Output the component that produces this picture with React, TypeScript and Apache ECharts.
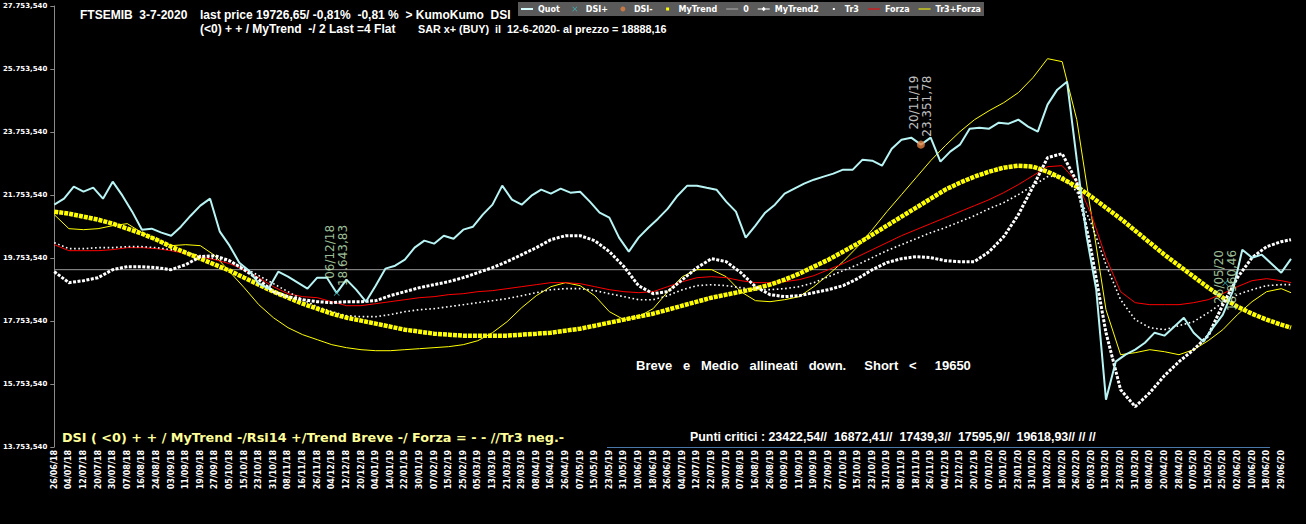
import React, { useEffect, useRef } from "react";
import * as echarts from "echarts";

// ---- tick labels (one every 6 sessions) ----
const DATE_LABELS = [
  "26/06/18","04/07/18","12/07/18","20/07/18","30/07/18","07/08/18","16/08/18","24/08/18","03/09/18","11/09/18",
  "19/09/18","27/09/18","05/10/18","15/10/18","23/10/18","31/10/18","08/11/18","16/11/18","26/11/18","04/12/18",
  "12/12/18","20/12/18","04/01/19","14/01/19","22/01/19","30/01/19","07/02/19","15/02/19","25/02/19","05/03/19",
  "13/03/19","21/03/19","29/03/19","08/04/19","16/04/19","26/04/19","07/05/19","15/05/19","23/05/19","31/05/19",
  "10/06/19","18/06/19","26/06/19","04/07/19","12/07/19","22/07/19","30/07/19","07/08/19","16/08/19","26/08/19",
  "03/09/19","11/09/19","19/09/19","27/09/19","07/10/19","15/10/19","23/10/19","31/10/19","08/11/19","18/11/19",
  "26/11/19","04/12/19","12/12/19","20/12/19","07/01/20","15/01/20","23/01/20","31/01/20","10/02/20","18/02/20",
  "26/02/20","05/03/20","13/03/20","23/03/20","31/03/20","08/04/20","20/04/20","28/04/20","07/05/20","15/05/20",
  "25/05/20","02/06/20","10/06/20","18/06/20","29/06/20"
];
const LABEL_STEP = 6;      // sessions between two date labels
const LAST_DAY = 508;      // session index of 03/07/2020
const QUOT_STEP = 4;       // sessions between two Quot samples
const TREND_STEP = 6;      // sessions between two indicator samples

// ---- series values ----
const QUOT = [
  21447,21637,22018,21859,21986,21637,22177,21732,21225,20653,
  20685,20558,20462,20748,21097,21415,21637,20589,20145,19606,
  19351,18939,18780,19320,19161,18970,18780,19129,19129,18644,
  19066,18748,18367,18875,19415,19510,19701,20082,20304,20209,
  20462,20367,20653,20748,21129,21447,22050,21606,21447,21732,
  21923,21796,21955,21828,21859,21542,21193,21034,20399,19955,
  20399,20716,21002,21320,21732,22050,22050,21986,21923,21542,
  21225,20399,20780,21193,21447,21796,21955,22113,22240,22336,
  22431,22558,22558,22875,22844,22685,23225,23510,23574,23352,
  23574,22812,23130,23352,23860,23891,23860,24050,24018,24145,
  23923,23764,24622,25098,25352,22875,20462,18748,15255,16462,
  16685,16843,17065,17383,17288,17573,17859,17383,17097,17541,
  17954,18685,20018,19764,19860,19574,19288,19727
];
const MY_TREND = [
  21225,21161,21066,20970,20844,20685,20526,20335,20114,19923,
  19733,19542,19352,19129,18907,18685,18494,18303,18145,17986,
  17859,17764,17669,17574,17478,17415,17351,17320,17288,17288,
  17288,17288,17320,17351,17383,17447,17510,17605,17701,17796,
  17891,17986,18113,18240,18367,18494,18590,18685,18780,18907,
  19066,19256,19479,19701,19955,20209,20494,20780,21066,21351,
  21637,21923,22145,22336,22494,22621,22685,22653,22494,22272,
  22018,21700,21351,21002,20621,20240,19860,19510,19161,18812,
  18494,18208,17986,17796,17637,17542
];
const MY_TREND2 = [
  19320,18970,19034,19129,19383,19479,19479,19447,19383,19542,
  19796,19828,19669,19383,19066,18685,18526,18430,18367,18335,
  18367,18367,18399,18558,18685,18812,18907,19002,19129,19288,
  19447,19638,19860,20082,20335,20462,20462,20304,19955,19479,
  18875,18621,18685,19066,19447,19733,19638,19288,18844,18590,
  18526,18558,18653,18748,18875,19098,19383,19606,19733,19796,
  19765,19669,19638,19638,19955,20431,21129,22018,22939,23066,
  22177,19955,17383,15573,15033,15478,16018,16462,16843,17288,
  18272,19129,19765,20114,20272,20335
];
const TR3 = [
  20240,20050,20050,20082,20082,20114,20114,20082,20018,19923,
  19828,19733,19638,19447,19193,18939,18685,18430,18208,18050,
  17923,17891,17891,17955,18050,18113,18145,18208,18272,18335,
  18399,18463,18558,18653,18748,18780,18780,18717,18621,18526,
  18430,18430,18558,18748,18875,18907,18875,18812,18748,18748,
  18780,18844,18971,19161,19352,19542,19765,19986,20177,20367,
  20558,20717,20907,21097,21320,21510,21764,22050,22336,22367,
  21859,20844,19542,18430,17796,17542,17478,17605,17732,18018,
  18335,18590,18748,18875,18907,18907
];
const FORZA = [
  20177,19986,19986,19986,20018,20082,20082,20050,19986,19891,
  19796,19701,19574,19383,19129,18844,18621,18526,18494,18367,
  18240,18240,18303,18367,18430,18494,18526,18590,18621,18685,
  18717,18780,18844,18907,18971,18971,18939,18844,18748,18685,
  18653,18685,18844,19002,19129,19161,19129,19034,18971,18971,
  19002,19066,19193,19383,19574,19796,20018,20240,20462,20653,
  20844,21034,21225,21415,21605,21828,22082,22367,22653,22685,
  22177,21129,19765,18685,18335,18272,18272,18272,18335,18430,
  18621,18844,19034,19098,19034,18971
];
const TR3_FORZA = [
  21129,20685,20653,20685,20780,20844,20558,20335,20145,20177,
  20145,19828,19320,18812,18272,17859,17542,17320,17161,17002,
  16907,16843,16811,16811,16843,16875,16907,16939,17002,17129,
  17383,17732,18177,18558,18844,18971,18875,18558,18050,17796,
  17891,18145,18685,19161,19383,19383,19161,18685,18399,18367,
  18430,18526,18844,19225,19638,20114,20653,21225,21764,22304,
  22844,23320,23764,24145,24431,24685,25003,25479,26082,25987,
  24145,21129,18113,16684,16748,16843,16779,16684,16843,17129,
  17478,17955,18367,18685,18780,18653
];
const ZERO_LEVEL = 19383;

// DSI signals: session index, price, date
const DSI_PLUS_DAYS = [116, 481];
const DSI_PLUS_VALUES = [18643.83, 18960.46];
const DSI_PLUS_DATES = ["06/12/18", "26/05/20"];
const DSI_MINUS_DAYS = [356];
const DSI_MINUS_VALUES = [23351.78];
const DSI_MINUS_DATES = ["20/11/19"];

const Y_MIN = 13753.54;
const Y_MAX = 27753.54;
const Y_STEP = 2000;

const LEGEND_NAMES = ["Quot", "DSI+", "DSI-", "MyTrend", "0", "MyTrend2", "Tr3", "Forza", "Tr3+Forza"];

// ---- helpers ----
const fmtIt = (v: number, dec: number) => {
  const [i, d] = v.toFixed(dec).split(".");
  return i.replace(/\B(?=(\d{3})+(?!\d))/g, ".") + "," + d;
};
const toPairs = (values: number[], step: number) =>
  values.map((v, i) => [Math.min(i * step, LAST_DAY), v]);

const X_SYMBOL = "path://M0 1L1 0L5 4L9 0L10 1L6 5L10 9L9 10L5 6L1 10L0 9L4 5Z";
// legend icons drawn in a 12x8 box (the first two moves fix the box)
const BOX = "M0,0M12,8";
const ICONS: Record<string, string> = {
  "Quot": `path://${BOX}M0,3H12V5H0Z`,
  "DSI+": `path://${BOX}M3.5 2L4 1.5L6 3.5L8 1.5L8.5 2L6.5 4L8.5 6L8 6.5L6 4.5L4 6.5L3.5 6L5.5 4Z`,
  "DSI-": `path://${BOX}M6,1.5A2.5,2.5 0 1,1 5.99,1.5Z`,
  "MyTrend": `path://${BOX}M4.5,2.5H7.5V5.5H4.5Z`,
  "0": `path://${BOX}M0,3.5H12V4.5H0Z`,
  "MyTrend2": `path://${BOX}M0,3.4H12V4.6H0Z M6,1.8L8.2,4L6,6.2L3.8,4Z`,
  "Tr3": `path://${BOX}M5,3H7V5H5Z`,
  "Forza": `path://${BOX}M0,3.5H12V4.5H0Z`,
  "Tr3+Forza": `path://${BOX}M0,3.5H12V4.5H0Z`,
};
const FONT = "DejaVu Sans";
const ARIAL = "Liberation Sans";

function buildOption(): any {
  // offsets are in the rotated label frame: first component moves the label up the page
  const plusOffsets = [[68, 0], [33, 0]];
  const minusOffsets = [[69, 0]];
  const annotLabel = (color: string) => ({
    show: true,
    position: "inside",
    rotate: 90,
    align: "right",
    verticalAlign: "middle",
    color,
    fontSize: 12,
    lineHeight: 13,
    fontFamily: FONT,
    formatter: (p: any) => `${p.data.date}\n${fmtIt(p.data.value[1], 2)}`,
  });

  return {
    animation: false,
    backgroundColor: "#000",
    grid: { left: 51, right: 15, top: 6, bottom: 77 },
    legend: {
      data: LEGEND_NAMES.map((n) => ({ name: n, icon: ICONS[n] })),
      left: 518,
      top: 2,
      padding: [3, 3],
      itemWidth: 12,
      itemHeight: 8,
      itemGap: 9,
      backgroundColor: "#5a5a5a",
      selectedMode: false,
      textStyle: { color: "#fff", fontSize: 8, fontWeight: "bold", fontFamily: FONT },
    },
    xAxis: {
      type: "value",
      min: 0,
      max: LAST_DAY,
      interval: LABEL_STEP,
      axisLine: { show: false },
      axisTick: { show: false },
      splitLine: { show: false },
      axisLabel: {
        rotate: 90,
        margin: 3,
        color: "#fff",
        fontSize: 8,
        fontWeight: "bold",
        fontFamily: FONT,
        showMaxLabel: false,
        formatter: (v: number) => {
          const r = Math.round(v);
          return r % LABEL_STEP === 0 ? DATE_LABELS[r / LABEL_STEP] ?? "" : "";
        },
      },
    },
    yAxis: {
      type: "value",
      min: Y_MIN,
      max: Y_MAX,
      interval: Y_STEP,
      offset: 2,
      axisLine: { show: true, lineStyle: { color: "#8a8a8a", width: 1 } },
      axisTick: { show: true, length: 4, lineStyle: { color: "#8a8a8a" } },
      splitLine: { show: false },
      axisLabel: {
        margin: 5,
        color: "#fff",
        fontSize: 7,
        fontWeight: "bold",
        fontFamily: FONT,
        formatter: (v: number) => fmtIt(v, 3),
      },
    },
    series: [
      {
        name: "0", type: "line", symbol: "none",
        data: [[0, ZERO_LEVEL], [LAST_DAY, ZERO_LEVEL]],
        lineStyle: { color: "#9a9a9a", width: 1 }, itemStyle: { color: "#b0b0b0" },
      },
      {
        name: "Tr3+Forza", type: "line", symbol: "none", data: toPairs(TR3_FORZA, TREND_STEP),
        lineStyle: { color: "#ffff00", width: 1 }, itemStyle: { color: "#ffff00" },
      },
      {
        name: "Forza", type: "line", symbol: "none", data: toPairs(FORZA, TREND_STEP),
        lineStyle: { color: "#ff0000", width: 1 }, itemStyle: { color: "#ff0000" },
      },
      {
        name: "Tr3", type: "line", symbol: "none", data: toPairs(TR3, TREND_STEP),
        lineStyle: { color: "#ffffff", width: 1.6, type: [1.6, 2.6] }, itemStyle: { color: "#ffffff" },
      },
      {
        name: "MyTrend", type: "line", symbol: "none", data: toPairs(MY_TREND, TREND_STEP),
        lineStyle: { color: "#ffff00", width: 4.5, type: [4, 1] }, itemStyle: { color: "#ffff00" },
      },
      {
        name: "MyTrend2", type: "line", symbol: "none",
        data: toPairs(MY_TREND2, TREND_STEP),
        lineStyle: { color: "#ffffff", width: 3, type: [3, 1.5] }, itemStyle: { color: "#ffffff" },
      },
      {
        name: "Quot", type: "line", symbol: "none", data: toPairs(QUOT, QUOT_STEP),
        lineStyle: { color: "#b8f4f4", width: 2 }, itemStyle: { color: "#d8ffff" },
      },
      {
        name: "DSI+", type: "scatter", symbol: X_SYMBOL, symbolSize: 6,
        itemStyle: { color: "#40c0c0" },
        data: DSI_PLUS_DAYS.map((d, i) => ({
          value: [d, DSI_PLUS_VALUES[i]], date: DSI_PLUS_DATES[i],
          label: { offset: plusOffsets[i] },
        })),
        label: annotLabel("#c8f0c0"),
        z: 5,
      },
      {
        name: "DSI-", type: "scatter", symbol: "circle", symbolSize: 8,
        itemStyle: { color: "#e08040" },
        data: DSI_MINUS_DAYS.map((d, i) => ({
          value: [d, DSI_MINUS_VALUES[i]], date: DSI_MINUS_DATES[i],
          label: { offset: minusOffsets[i] },
        })),
        label: annotLabel("#f4f4f4"),
        z: 5,
      },
    ],
    graphic: [
      { type: "text", x: 80, y: 15, style: { text: "FTSEMIB  3-7-2020", fill: "#fff", font: `bold 12px "${ARIAL}"`, verticalAlign: "middle" } },
      { type: "text", x: 200, y: 15, style: { text: "last price 19726,65/ -0,81%  -0,81 %  > KumoKumo  DSI", fill: "#fff", font: `bold 12px "${ARIAL}"`, verticalAlign: "middle" } },
      { type: "text", x: 200, y: 29, style: { text: "(<0) + + / MyTrend  -/ 2 Last =4 Flat", fill: "#fff", font: `bold 12px "${ARIAL}"`, verticalAlign: "middle" } },
      { type: "text", x: 418, y: 29, style: { text: "SAR x+ (BUY)  il  12-6-2020- al prezzo = 18888,16", fill: "#fff", font: `bold 10.8px "${ARIAL}"`, verticalAlign: "middle" } },
      { type: "text", x: 636, y: 365, style: { text: "Breve   e   Medio   allineati   down.     Short   <     19650", fill: "#fff", font: `bold 13px "${ARIAL}"`, verticalAlign: "middle" } },
      { type: "rect", shape: { x: 44, y: 428, width: 526, height: 18 }, style: { fill: "#000" } },
      { type: "text", x: 62, y: 437, style: { text: "DSI ( <0) + + / MyTrend -/Rsi14 +/Trend Breve -/ Forza = - - //Tr3 neg.-", fill: "#ffff99", font: `bold 12.8px "${FONT}"`, verticalAlign: "middle" } },
      { type: "line", shape: { x1: 607, y1: 447.5, x2: 1270, y2: 447.5 }, style: { stroke: "#4a78a8", lineWidth: 1 } },
      { type: "text", x: 690, y: 437, style: { text: "Punti critici : 23422,54//  16872,41//  17439,3//  17595,9//  19618,93// // //", fill: "#fff", font: `bold 12.4px "${ARIAL}"`, verticalAlign: "middle" } },
    ],
  };
}

export default function App() {
  const ref = useRef<HTMLDivElement>(null);
  useEffect(() => {
    const el = ref.current;
    if (!el) return;
    const chart = echarts.init(el, undefined, { renderer: "svg" });
    chart.setOption(buildOption());
    return () => chart.dispose();
  }, []);
  return (
    <div
      ref={ref}
      style={{ position: "fixed", left: 0, top: 0, width: 1306, height: 524, background: "#000" }}
    />
  );
}
